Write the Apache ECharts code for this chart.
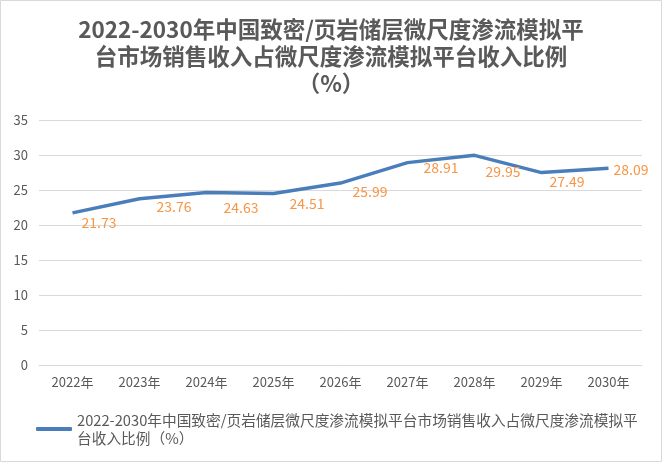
<!DOCTYPE html>
<html><head><meta charset="utf-8">
<script src="https://cdn.jsdelivr.net/npm/echarts@6/dist/echarts.min.js"></script>
<style>html,body{margin:0;padding:0;background:#fff}#c{width:662px;height:462px}</style>
</head><body><div id="c"></div>
<script>
const titleText = '2022-2030年中国致密/页岩储层微尺度渗流模拟平\n台市场销售收入占微尺度渗流模拟平台收入比例\n（%）';
const seriesName = '2022-2030年中国致密/页岩储层微尺度渗流模拟平台市场销售收入占微尺度渗流模拟平台收入比例（%）';
const categories = ['2022年','2023年','2024年','2025年','2026年','2027年','2028年','2029年','2030年'];
const values = [21.73, 23.76, 24.63, 24.51, 25.99, 28.91, 29.95, 27.49, 28.09];
const labelOffsets = [[4,10],[12,8],[12,15],[11,10],[7,9],[11,5],[6,16],[3,9],[0,1]];

const chart = echarts.init(document.getElementById('c'));
chart.setOption({
  animation:false,
  backgroundColor:'#fff',
  title:{text:titleText,left:'center',top:11,textStyle:{fontFamily:'Noto Sans CJK SC',fontSize:22.5,fontWeight:'bold',color:'#595959',lineHeight:27}},
  graphic:[{type:'rect',shape:{x:0.5,y:0.5,width:661,height:461},style:{fill:'none',stroke:'#d9d9d9',lineWidth:1},silent:true}],
  grid:{left:39,right:20,top:120,bottom:97},
  legend:{left:36,top:411,padding:0,itemWidth:36,itemHeight:4,itemGap:6,icon:'roundRect',
    textStyle:{fontFamily:'Noto Sans CJK SC',fontSize:14.7,color:'#595959',width:568,overflow:'break',lineHeight:18}},
  xAxis:{type:'category',data:categories,boundaryGap:true,
    axisLine:{show:true,lineStyle:{color:'#d9d9d9'}},axisTick:{show:false},
    axisLabel:{color:'#595959',fontSize:13,fontFamily:'Noto Sans CJK SC',margin:11}},
  yAxis:{type:'value',min:0,max:35,interval:5,
    axisLine:{show:false},axisTick:{show:false},
    splitLine:{lineStyle:{color:'#d9d9d9',width:1}},
    axisLabel:{color:'#595959',fontSize:13,fontFamily:'Noto Sans CJK SC',margin:11}},
  series:[{name:seriesName,type:'line',symbol:'circle',symbolSize:0,showSymbol:true,
    lineStyle:{color:'#4A7EBB',width:3.5},itemStyle:{color:'#4A7EBB'},
    data:values.map((v,i)=>({value:v,label:{offset:labelOffsets[i]}})),
    label:{show:true,position:'right',distance:5,color:'#F79646',fontSize:14,fontFamily:'Noto Sans CJK SC'}
  }]
});
</script></body></html>
